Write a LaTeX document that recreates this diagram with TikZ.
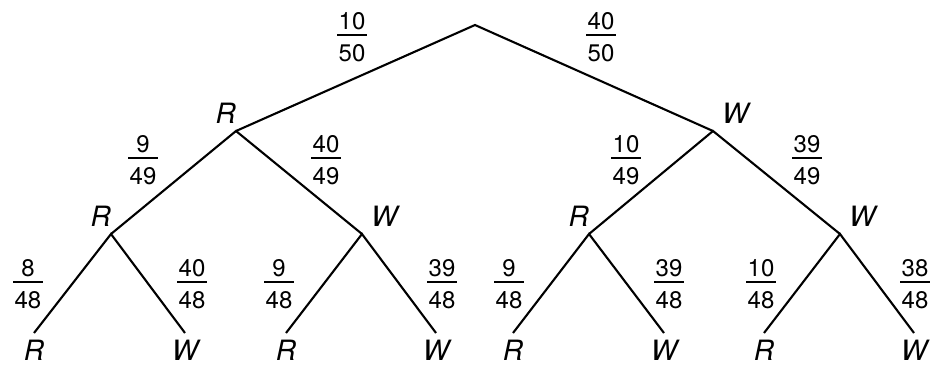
\documentclass[tikz,border=0pt]{standalone}
\usepackage{fontspec}
\setmainfont{TeX Gyre Heros}
\newcommand{\prob}[2]{\vbox{\offinterlineskip\halign{\hfil\kern1.5pt##\kern1.5pt\hfil\cr #1\cr\noalign{\kern4.2pt\hrule height 1.4pt\kern8.8pt}#2\cr}}}
\begin{document}
\begin{tikzpicture}[x=1pt,y=-1pt,
    edge/.style={line width=2.1pt},
    pr/.style={inner sep=0pt,font=\fontsize{24}{28}\selectfont},
    lbl/.style={inner sep=0pt,font=\fontsize{28}{32}\selectfont\itshape},
    lblR/.style={lbl,anchor=south east,yshift=7pt},
    lblW/.style={lbl,anchor=south west,xshift=9pt,yshift=7pt},
    leaf/.style={lbl,anchor=north,yshift=-7pt}]
            \useasboundingbox (0,0) rectangle (931,365);

            % 树的顶点
            \coordinate (n0) at (475,25);
            \coordinate (nR) at (236,131);
            \coordinate (nW) at (713,131);
            \coordinate (nRR) at (111,234);
            \coordinate (nRW) at (362,234);
            \coordinate (nWR) at (589,234);
            \coordinate (nWW) at (840,234);
            \coordinate (nRRR) at (34,333);
            \coordinate (nRRW) at (185,333);
            \coordinate (nRWR) at (286,333);
            \coordinate (nRWW) at (436,333);
            \coordinate (nWRR) at (513,333);
            \coordinate (nWRW) at (664,333);
            \coordinate (nWWR) at (764,333);
            \coordinate (nWWW) at (914,333);

            % 树枝
            \draw[edge] (nR) -- (n0) -- (nW);
            \draw[edge] (nRR) -- (nR) -- (nRW);
            \draw[edge] (nWR) -- (nW) -- (nWW);
            \draw[edge] (nRRR) -- (nRR) -- (nRRW);
            \draw[edge] (nRWR) -- (nRW) -- (nRWW);
            \draw[edge] (nWRR) -- (nWR) -- (nWRW);
            \draw[edge] (nWWR) -- (nWW) -- (nWWW);

            % 结点的字母
            \node[lblR] (tR) at (nR) {R};
            \node[lblW] (tW) at (nW) {W};
            \node[lblR] (tRR) at (nRR) {R};
            \node[lblW] (tRW) at (nRW) {W};
            \node[lblR] (tWR) at (nWR) {R};
            \node[lblW] (tWW) at (nWW) {W};
            \node[leaf] (tRRR) at (nRRR) {R};
            \node[leaf] (tRRW) at (nRRW) {W};
            \node[leaf] (tRWR) at (nRWR) {R};
            \node[leaf] (tRWW) at (nRWW) {W};
            \node[leaf] (tWRR) at (nWRR) {R};
            \node[leaf] (tWRW) at (nWRW) {W};
            \node[leaf] (tWWR) at (nWWR) {R};
            \node[leaf] (tWWW) at (nWWW) {W};

            % 概率
            \node[pr] (pR) at (352,37.3) {\prob{10}{50}};
            \node[pr] (pW) at (601,37.3) {\prob{40}{50}};
            \node[pr] (pRR) at (143,160.3) {\prob{9}{49}};
            \node[pr] (pRW) at (326,160.3) {\prob{40}{49}};
            \node[pr] (pWR) at (626,160.3) {\prob{10}{49}};
            \node[pr] (pWW) at (807,160.3) {\prob{39}{49}};
            \node[pr] (pRRR) at (28,284.3) {\prob{8}{48}};
            \node[pr] (pRRW) at (192,284.3) {\prob{40}{48}};
            \node[pr] (pRWR) at (279,284.3) {\prob{9}{48}};
            \node[pr] (pRWW) at (442,284.3) {\prob{39}{48}};
            \node[pr] (pWRR) at (509,284.3) {\prob{9}{48}};
            \node[pr] (pWRW) at (669,284.3) {\prob{39}{48}};
            \node[pr] (pWWR) at (761,284.3) {\prob{10}{48}};
            \node[pr] (pWWW) at (915,284.3) {\prob{38}{48}};
\end{tikzpicture}
\end{document}
